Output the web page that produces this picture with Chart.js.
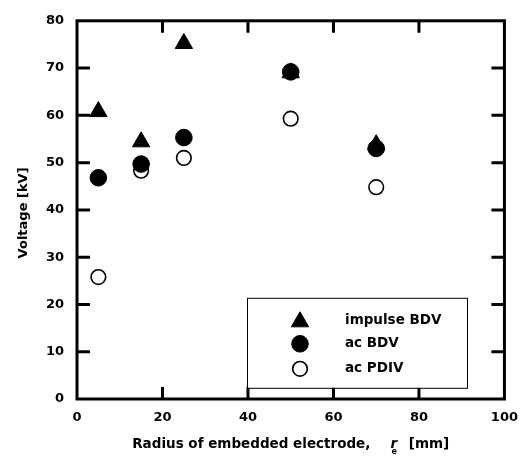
<!DOCTYPE html>
<html>
<head>
<meta charset="utf-8">
<script src="https://cdn.jsdelivr.net/npm/chart.js@4"></script>
<style>
  html, body { margin: 0; padding: 0; background: #fff; }
  #wrap { width: 529px; height: 458px; position: relative; }
</style>
</head>
<body>
<div id="wrap"><canvas id="chart"></canvas></div>
<script>
// radius of embedded electrode [mm]
const radii = [5, 15, 25, 50, 70];
// voltages [kV]
const impulseBDV = [60.8, 54.4, 75.2, 69, 53.8];
const acBDV = [46.8, 49.7, 55.3, 69.2, 53];
const acPDIV = [25.8, 48.3, 51, 59.3, 44.8];

const xTicks = [0, 20, 40, 60, 80, 100];
const yTicks = [0, 10, 20, 30, 40, 50, 60, 70, 80];

const seriesNames = ['impulse BDV', 'ac BDV', 'ac PDIV'];
const FAMILY = '"DejaVu Sans", Verdana, sans-serif';
const LABEL_FONT = 'bold 13.5px ' + FAMILY;

function toPoints(values) {
  return radii.map((r, i) => ({ x: r, y: values[i] }));
}

const markerStyles = [
  { pointStyle: 'triangle', radius: 10, backgroundColor: '#000', borderColor: '#000', borderWidth: 1 },
  { pointStyle: 'circle', radius: 8.3, backgroundColor: '#000', borderColor: '#000', borderWidth: 1 },
  { pointStyle: 'circle', radius: 7.3, backgroundColor: '#fff', borderColor: '#000', borderWidth: 1.6 }
];

// frame with inward ticks on all four sides
const framePlugin = {
  id: 'frame',
  afterDatasetsDraw(chart) {
    const { ctx, chartArea: a, scales } = chart;
    ctx.save();
    ctx.strokeStyle = '#000';
    ctx.lineWidth = 3;
    ctx.strokeRect(a.left, a.top, a.right - a.left, a.bottom - a.top);
    ctx.beginPath();
    xTicks.slice(1, -1).forEach(v => {
      const px = scales.x.getPixelForValue(v);
      ctx.moveTo(px, a.bottom); ctx.lineTo(px, a.bottom - 12);
      ctx.moveTo(px, a.top); ctx.lineTo(px, a.top + 12);
    });
    yTicks.slice(1, -1).forEach(v => {
      const py = scales.y.getPixelForValue(v);
      ctx.moveTo(a.left, py); ctx.lineTo(a.left + 13, py);
      ctx.moveTo(a.right, py); ctx.lineTo(a.right - 13, py);
    });
    ctx.stroke();
    ctx.restore();
  }
};

// axis titles, x title carries an italic r with subscript e
const titlesPlugin = {
  id: 'titles',
  afterDraw(chart) {
    const { ctx, chartArea: a } = chart;
    ctx.save();
    ctx.fillStyle = '#000';
    ctx.textBaseline = 'alphabetic';
    ctx.textAlign = 'left';

    const main = 'Radius of embedded electrode,';
    ctx.font = LABEL_FONT;
    const mainW = ctx.measureText(main).width;
    const tailW = ctx.measureText(' [mm]').width;
    const gap = 20;
    ctx.font = 'italic bold 13.5px ' + FAMILY;
    const rW = ctx.measureText('r').width;
    const total = mainW + gap + rW + 7 + tailW;
    let x = (a.left + a.right) / 2 - total / 2;
    const base = 448;
    ctx.font = LABEL_FONT;
    ctx.fillText(main, x, base);
    x += mainW + gap;
    ctx.font = 'italic bold 13.5px ' + FAMILY;
    ctx.fillText('r', x, base);
    ctx.font = 'bold 8px ' + FAMILY;
    ctx.fillText('e', x + 1, base + 6);
    x += rW + 7;
    ctx.font = LABEL_FONT;
    ctx.fillText(' [mm]', x, base);

    ctx.translate(24, (a.top + a.bottom) / 2 + 3);
    ctx.rotate(-Math.PI / 2);
    ctx.textAlign = 'center';
    ctx.textBaseline = 'middle';
    ctx.font = 'bold 13px ' + FAMILY;
    ctx.fillText('Voltage [kV]', 0, 0);
    ctx.restore();
  }
};

// boxed legend inside the lower right of the plot
const legendPlugin = {
  id: 'boxLegend',
  afterDraw(chart) {
    const { ctx, chartArea: a } = chart;
    const left = a.left + 170, top = a.top + 277, w = 220, h = 90;
    ctx.save();
    ctx.fillStyle = '#fff';
    ctx.fillRect(left, top, w, h);
    ctx.strokeStyle = '#000';
    ctx.lineWidth = 1;
    ctx.strokeRect(left + 0.5, top + 0.5, w, h);
    const rows = [top + 23, top + 46, top + 71];
    chart.data.datasets.forEach((ds, i) => {
      const s = markerStyles[i];
      ctx.fillStyle = s.backgroundColor;
      ctx.strokeStyle = s.borderColor;
      ctx.lineWidth = s.borderWidth;
      const my = s.pointStyle === 'triangle' ? rows[i] + 1 : rows[i];
      Chart.helpers.drawPoint(ctx, {
        pointStyle: s.pointStyle, radius: s.radius, rotation: 0, borderWidth: s.borderWidth
      }, left + 53, my);
      ctx.fillStyle = '#000';
      ctx.font = LABEL_FONT;
      ctx.textAlign = 'left';
      ctx.textBaseline = 'middle';
      ctx.fillText(ds.label, left + 98, rows[i]);
    });
    ctx.restore();
  }
};

new Chart(document.getElementById('chart'), {
  type: 'scatter',
  data: {
    datasets: [impulseBDV, acBDV, acPDIV].map((vals, i) => ({
      label: seriesNames[i],
      data: toPoints(vals),
      showLine: false,
      pointStyle: markerStyles[i].pointStyle,
      pointRadius: markerStyles[i].radius,
      pointHoverRadius: markerStyles[i].radius,
      pointBackgroundColor: markerStyles[i].backgroundColor,
      pointBorderColor: markerStyles[i].borderColor,
      pointBorderWidth: markerStyles[i].borderWidth
    }))
  },
  options: {
    responsive: true,
    maintainAspectRatio: false,
    animation: false,
    layout: { padding: { left: 0, top: 19, right: 21, bottom: 0 } },
    plugins: {
      legend: { display: false },
      tooltip: { enabled: false }
    },
    scales: {
      x: {
        type: 'linear',
        min: 0,
        max: 100,
        afterFit(scale) { scale.height = 59; },
        afterBuildTicks(scale) { scale.ticks = xTicks.map(v => ({ value: v })); },
        grid: { display: false, drawTicks: false },
        border: { display: false },
        ticks: {
          color: '#000',
          font: { family: FAMILY, size: 13, weight: 'bold' },
          padding: 11,
          maxRotation: 0
        }
      },
      y: {
        type: 'linear',
        min: 0,
        max: 80,
        afterFit(scale) { scale.width = 77; },
        afterBuildTicks(scale) { scale.ticks = yTicks.map(v => ({ value: v })); },
        grid: { display: false, drawTicks: false },
        border: { display: false },
        ticks: {
          color: '#000',
          font: { family: FAMILY, size: 13, weight: 'bold' },
          padding: 13
        }
      }
    }
  },
  plugins: [framePlugin, titlesPlugin, legendPlugin]
});
</script>
</body>
</html>
